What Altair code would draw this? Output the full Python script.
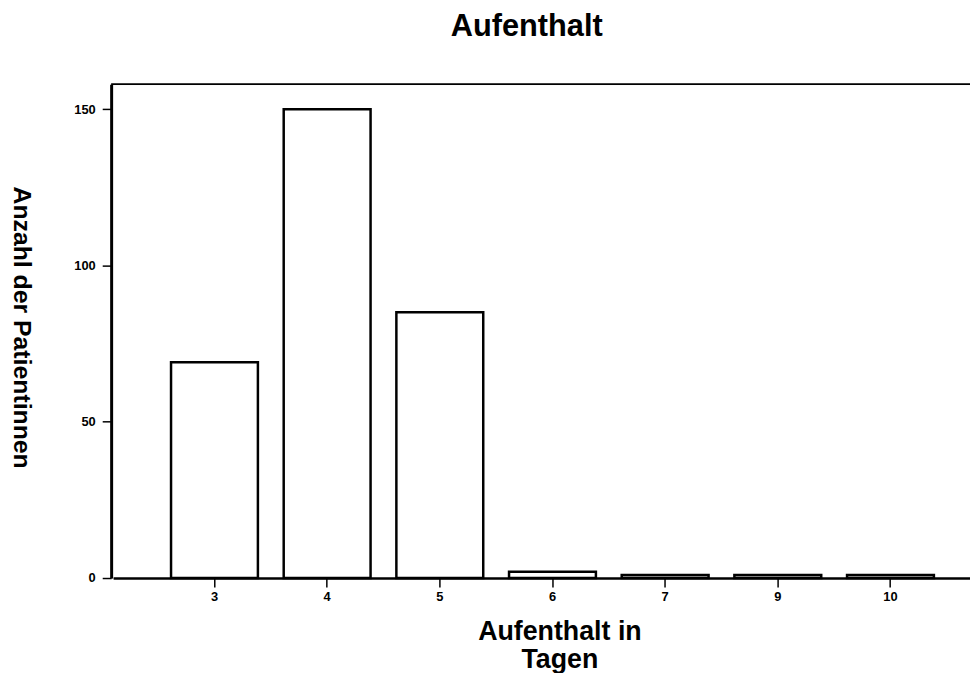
import altair as alt
import pandas as pd

days = ["3", "4", "5", "6", "7", "9", "10"]
counts = [69, 150, 85, 2, 1, 1, 1]
y_ticks = [0, 50, 100, 150]

df = pd.DataFrame({"Tage": days, "Anzahl": counts})
frame_df = pd.DataFrame({"k": [0]})

W = 866
H = 498
FONT = "Liberation Sans"

bars = alt.Chart(df).mark_bar(fill="white", stroke="black", strokeWidth=2.5).encode(
    x=alt.X(
        "Tage:N",
        sort=days,
        scale=alt.Scale(range=[2, 888], paddingInner=0.229, paddingOuter=0.514),
        axis=alt.Axis(
            title=["Aufenthalt in", "Tagen"],
            labelAngle=0,
            labelFont=FONT, labelFontWeight="bold", labelFontSize=13, labelColor="black",
            labelPadding=4,
            tickSize=9, tickWidth=1.5, tickColor="black",
            domainColor="black", domainWidth=2.5,
            titleFont=FONT, titleFontWeight="bold", titleFontSize=27, titleColor="black",
            titleLineHeight=28,
            titleX=452, titleY=62, titleAlign="center", titleBaseline="alphabetic",
            grid=False,
        ),
    ),
    y=alt.Y(
        "Anzahl:Q",
        scale=alt.Scale(domain=[0, 158], nice=False),
        axis=alt.Axis(
            title="Anzahl der Patientinnen",
            values=y_ticks,
            labelFont=FONT, labelFontWeight="bold", labelFontSize=13, labelColor="black",
            labelPadding=7,
            tickSize=9, tickWidth=1.5, tickColor="black",
            domainColor="black", domainWidth=3,
            titleFont=FONT, titleFontWeight="bold", titleFontSize=25, titleColor="black",
            titleAngle=90, titleX=-90, titleY=H / 2 - 4, titleAlign="center", titleBaseline="middle",
            grid=False,
        ),
    ),
)

top = alt.Chart(frame_df).mark_rule(color="black", strokeWidth=2).encode(
    y=alt.value(0), x=alt.value(0), x2=alt.value(W + 20)
)

chart = alt.layer(bars, top).properties(
    width=W,
    height=H,
    title=alt.TitleParams(
        "Aufenthalt", font=FONT, fontWeight="bold", fontSize=31, color="black",
        anchor="middle", offset=41, dx=-14,
    ),
    autosize=alt.AutoSizeParams(type="none"),
    padding={"left": 104, "top": 74, "right": 0, "bottom": 93},
).configure_view(stroke=None).configure(background="white")

chart.save("out.html", embed_options={"renderer": "svg", "actions": False})
